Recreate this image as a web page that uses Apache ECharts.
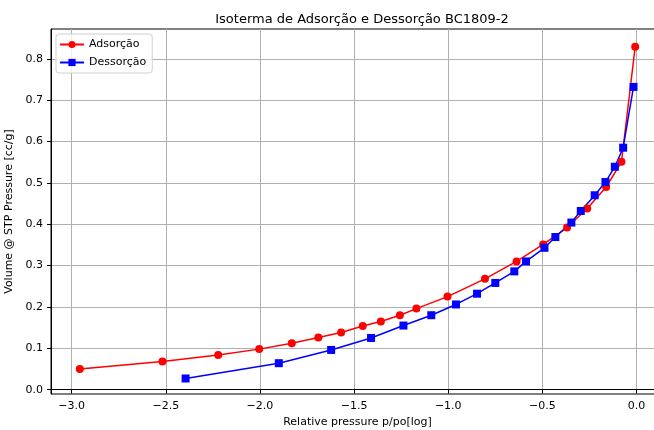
<!DOCTYPE html>
<html>
<head>
<meta charset="utf-8">
<script src="https://cdn.jsdelivr.net/npm/echarts@6/dist/echarts.min.js"></script>
<style>
  html, body { margin: 0; padding: 0; background: #fff; }
  #chart { width: 654px; height: 430px; }
</style>
</head>
<body>
<div id="chart"></div>
<script>
// data (x = log10 p/po, y = cc/g)
var adsX = [-2.957, -2.518, -2.222, -2.004, -1.831, -1.690, -1.569, -1.454, -1.358, -1.257, -1.169, -1.004, -0.805, -0.637, -0.496, -0.369, -0.262, -0.161, -0.080, -0.007];
var adsY = [0.050, 0.068, 0.084, 0.098, 0.112, 0.126, 0.138, 0.154, 0.165, 0.180, 0.196, 0.225, 0.268, 0.310, 0.351, 0.392, 0.438, 0.490, 0.551, 0.829];
var desX = [-2.395, -1.900, -1.622, -1.410, -1.238, -1.090, -0.959, -0.847, -0.750, -0.649, -0.587, -0.489, -0.431, -0.346, -0.296, -0.222, -0.165, -0.115, -0.071, -0.016];
var desY = [0.027, 0.064, 0.096, 0.125, 0.155, 0.180, 0.206, 0.232, 0.258, 0.286, 0.310, 0.343, 0.369, 0.404, 0.432, 0.470, 0.502, 0.539, 0.585, 0.732];
var xTicks = [-3.0, -2.5, -2.0, -1.5, -1.0, -0.5, 0.0];
var yTicks = [0.0, 0.1, 0.2, 0.3, 0.4, 0.5, 0.6, 0.7, 0.8];

function pairs(xs, ys) {
  var out = [];
  for (var i = 0; i < xs.length; i++) out.push([xs[i], ys[i]]);
  return out;
}
function fmt(v) {
  return (v < 0 ? "\u2212" : "") + Math.abs(v).toFixed(1);
}

var font = "DejaVu Sans";
var chart = echarts.init(document.getElementById("chart"));
var option = {
  animation: false,
  textStyle: { fontFamily: font },
  title: {
    text: "Isoterma de Adsorção e Dessorção BC1809-2",
    left: 357,
    textAlign: "center",
    top: 8,
    textStyle: { fontSize: 13, fontWeight: "normal", color: "#000", fontFamily: font },
  },
  legend: {
    orient: "vertical",
    left: 56,
    top: 34,
    itemWidth: 24,
    itemHeight: 9,
    itemGap: 7,
    padding: [5, 6, 5, 3],
    backgroundColor: "rgba(255,255,255,0.8)",
    borderColor: "#d0d0d0",
    borderWidth: 1,
    borderRadius: 3,
    textStyle: { fontSize: 11, color: "#000", fontFamily: font },
    data: ["Adsorção", "Dessorção"],
  },
  grid: {
    left: 51,
    right: -10,
    top: 29,
    bottom: 36,
    outerBoundsMode: "none",
    containLabel: false,
    show: true,
    borderColor: "#000",
    borderWidth: 1,
  },
  xAxis: {
    type: "value",
    min: -3.11,
    max: 0.146,
    name: "Relative pressure p/po[log]",
    nameLocation: "middle",
    nameGap: 22,
    nameTextStyle: { fontSize: 11, color: "#000" },
    axisLine: { lineStyle: { color: "#000" } },
    axisTick: { inside: false, length: 4, lineStyle: { color: "#000" }, customValues: xTicks },
    axisLabel: { fontSize: 11, color: "#000", margin: 7, customValues: xTicks, formatter: fmt },
    splitLine: { show: true, lineStyle: { color: "#b0b0b0", width: 1 } },
  },
  yAxis: {
    type: "value",
    min: -0.0105,
    max: 0.872,
    name: "Volume @ STP Pressure [cc/g]",
    nameLocation: "middle",
    nameGap: 33,
    nameRotate: 90,
    nameTextStyle: { fontSize: 11, color: "#000" },
    axisLine: { show: true, onZero: false, lineStyle: { color: "#000" } },
    axisTick: { show: true, inside: false, length: 4, lineStyle: { color: "#000" }, customValues: yTicks },
    axisLabel: { fontSize: 11, color: "#000", margin: 8, customValues: yTicks, formatter: fmt },
    splitLine: { show: true, lineStyle: { color: "#b0b0b0", width: 1 } },
  },
  series: [
    {
      name: "Adsorção",
      type: "line",
      data: pairs(adsX, adsY),
      symbol: "circle",
      symbolSize: 8,
      showAllSymbol: true,
      lineStyle: { color: "#ff0000", width: 1.5 },
      itemStyle: { color: "#ff0000" },
    },
    {
      name: "Dessorção",
      type: "line",
      data: pairs(desX, desY),
      symbol: "rect",
      symbolSize: 8,
      showAllSymbol: true,
      lineStyle: { color: "#0000ff", width: 1.5 },
      itemStyle: { color: "#0000ff" },
    },
  ],
};
chart.setOption(option);
</script>
</body>
</html>
